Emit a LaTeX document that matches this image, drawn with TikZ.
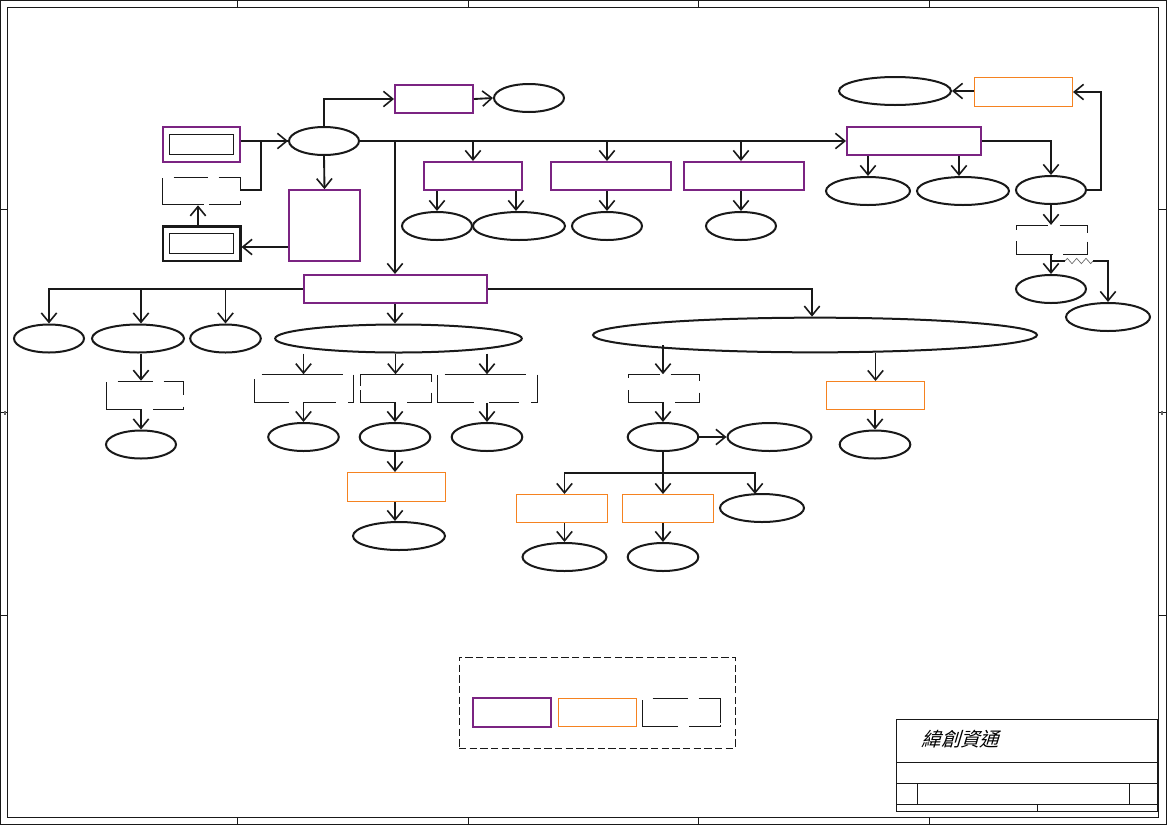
\documentclass[tikz,border=0pt]{standalone}
\usepackage{fontspec}
\newfontfamily\cjkslant[FakeSlant=0.3]{Noto Sans CJK TC}
\usetikzlibrary{arrows.meta,positioning,shapes.geometric,decorations.pathmorphing}
\definecolor{plum}{HTML}{7B2482}
\definecolor{amber}{HTML}{F58220}
\tikzset{
    link/.style={draw=black!90,line width=1.4pt,-{Straight Barb[length=7pt,width=11.5pt,line width=1.2pt]}},
    wire/.style={draw=black!90,line width=1.5pt},
    mainbox/.style={draw=plum,line width=1.5pt,rectangle,inner sep=0pt},
    subbox/.style={draw=amber,line width=0.75pt,rectangle,inner sep=0pt},
    openbox/.style={rectangle,inner sep=0pt},
    innerbox/.style={draw=black!90,line width=0.75pt,rectangle,inner sep=0pt,minimum width=48.5pt,minimum height=15.5pt},
    gapline/.style={draw=black!90,line width=0.75pt},
    oval/.style={draw=black!90,line width=1.5pt,ellipse,inner sep=0pt},
    frameline/.style={draw=black!90,line width=0.75pt}
}
\begin{document}
\begin{tikzpicture}[x=0.75pt,y=-0.75pt]
\useasboundingbox (0,0) rectangle (1167,825);

% sheet border
\draw[frameline] (0.5,0.5) rectangle (1166.5,824.5);
\draw[frameline] (7.5,7.5) rectangle (1158.5,817.5);
\foreach \x in {237.5,468.5,698.5,929.5}{
  \draw[frameline] (\x,0.5) -- (\x,7.5);
  \draw[frameline] (\x,817.5) -- (\x,824.5);
}
\foreach \y in {209.5,615.5}{
  \draw[frameline] (0.5,\y) -- (7.5,\y);
  \draw[frameline] (1158.5,\y) -- (1166.5,\y);
}
\draw[frameline] (0.5,412.5) -- (7.5,412.5);
\draw[frameline] (1158.5,412.5) -- (1166.5,412.5);
\draw[black!60,line width=1.5pt] (4.5,410.5) -- (4.5,414.5);
\draw[black!60,line width=1.5pt] (1162,410.5) -- (1162,414.5);

% title block
\draw[frameline] (896.5,719.5) rectangle (1157.5,811.5);
\draw[frameline] (896.5,762.5) -- (1157.5,762.5);
\draw[frameline] (896.5,783.5) -- (1157.5,783.5);
\draw[frameline] (896.5,804.5) -- (1157.5,804.5);
\draw[frameline] (917.5,783.5) -- (917.5,804.5);
\draw[frameline] (1129.5,783.5) -- (1129.5,804.5);
\draw[frameline] (1037.5,804.5) -- (1037.5,811.5);
\node[font=\cjkslant\fontsize{14.5pt}{14.5pt}\selectfont,inner sep=0pt] (brand) at (960.5,739) {緯創資通};

% top row
\node[oval,minimum width=52.5pt,minimum height=21pt] (hub) at (324,141) {};
\node[mainbox,minimum width=58.5pt,minimum height=21pt] (memory) at (434,99) {};
\node[oval,minimum width=52.5pt,minimum height=21pt] (memoryend) at (529,98) {};
\node[mainbox,minimum width=58pt,minimum height=26pt] (power) at (201.5,144.5) {};
\node[innerbox] (powerin) at (201.5,144.5) {};
\node[openbox,minimum width=58.5pt,minimum height=21pt] (charger) at (201,191) {};
\node[draw=black!90,line width=2pt,rectangle,inner sep=0pt,minimum width=58pt,minimum height=26pt] (adapter) at (201.5,243.5) {};
\node[innerbox] (adapterin) at (201.5,243.5) {};
\node[mainbox,minimum width=53pt,minimum height=53pt] (board) at (324.5,225.5) {};

% branches off the main bus
\node[mainbox,minimum width=73.5pt,minimum height=21pt] (busa) at (473,176) {};
\node[mainbox,minimum width=90pt,minimum height=21pt] (busb) at (611,176) {};
\node[mainbox,minimum width=90pt,minimum height=21pt] (busc) at (744,176) {};
\node[oval,minimum width=52.5pt,minimum height=21pt] (busaa) at (437,226) {};
\node[oval,minimum width=69pt,minimum height=21pt] (busab) at (519,226) {};
\node[oval,minimum width=52.5pt,minimum height=21pt] (busbend) at (607,226) {};
\node[oval,minimum width=52.5pt,minimum height=21pt] (buscend) at (741,226) {};

% right group
\node[mainbox,minimum width=100.5pt,minimum height=21pt] (right) at (914,141) {};
\node[subbox,minimum width=73.5pt,minimum height=21.75pt] (rightsub) at (1023.5,92) {};
\node[oval,minimum width=84pt,minimum height=21pt] (rightend) at (895,91) {};
\node[oval,minimum width=63pt,minimum height=21pt] (righta) at (868,191) {};
\node[oval,minimum width=69pt,minimum height=21pt] (rightb) at (963,191) {};
\node[oval,minimum width=52.5pt,minimum height=21pt] (rightc) at (1051,190) {};
\node[openbox,minimum width=53pt,minimum height=21.5pt] (rightbox) at (1051.5,239.5) {};
\node[oval,minimum width=52.5pt,minimum height=21pt] (rightd) at (1051,289) {};
\node[oval,minimum width=63pt,minimum height=21pt] (righte) at (1108,317) {};
\coordinate (bendstart) at (1051,261);
\coordinate (bendin) at (1065,261);
\coordinate (bendout) at (1093,261);

% lower bus
\node[mainbox,minimum width=137pt,minimum height=21pt] (lower) at (395.5,289) {};
\node[oval,minimum width=52.5pt,minimum height=21pt] (lowa) at (49,338.5) {};
\node[oval,minimum width=69pt,minimum height=21pt] (lowb) at (138,338.5) {};
\node[oval,minimum width=53pt,minimum height=21pt] (lowc) at (225.5,338.5) {};
\node[oval,minimum width=185pt,minimum height=21pt] (lowd) at (398.5,338.5) {};
\node[oval,minimum width=333pt,minimum height=26pt] (lowe) at (815,335) {};

% under lowb
\node[openbox,minimum width=58pt,minimum height=21pt] (lowbbox) at (145,395) {};
\node[oval,minimum width=52.5pt,minimum height=21pt] (lowbend) at (141,444.5) {};

% under lowd
\node[openbox,minimum width=74.25pt,minimum height=21pt] (lowda) at (303.5,388.5) {};
\node[openbox,minimum width=53pt,minimum height=21pt] (lowdb) at (395.5,388.5) {};
\node[openbox,minimum width=75pt,minimum height=21pt] (lowdc) at (487,388.5) {};
\node[oval,minimum width=53pt,minimum height=21pt] (lowdaend) at (303.5,437) {};
\node[oval,minimum width=53pt,minimum height=21pt] (lowdbend) at (395,437) {};
\node[oval,minimum width=53pt,minimum height=21pt] (lowdcend) at (487,437) {};
\node[subbox,minimum width=73.5pt,minimum height=21.75pt] (lowdbsub) at (396.5,487) {};
\node[oval,minimum width=69pt,minimum height=21pt] (lowdbsubend) at (399,536) {};

% under lowe
\coordinate (loweatop) at (663,345);
\node[openbox,minimum width=53pt,minimum height=21pt] (lowea) at (663.5,388.5) {};
\node[oval,minimum width=53pt,minimum height=21pt] (loweaend) at (663,437) {};
\node[oval,minimum width=63pt,minimum height=21pt] (loweaside) at (769.5,437) {};
\node[subbox,minimum width=73.5pt,minimum height=21pt] (loweb) at (875.5,395.5) {};
\node[oval,minimum width=53pt,minimum height=21pt] (lowebend) at (875,444.5) {};
\node[subbox,minimum width=68.25pt,minimum height=21pt] (branchl) at (562,508.5) {};
\node[subbox,minimum width=68.25pt,minimum height=21pt] (branchm) at (668,508.5) {};
\node[oval,minimum width=63pt,minimum height=21pt] (branchr) at (762,508) {};
\node[oval,minimum width=63pt,minimum height=21pt] (branchlend) at (564.5,557) {};
\node[oval,minimum width=53pt,minimum height=21pt] (branchmend) at (663,557) {};
\coordinate (tree) at (663,473);
\coordinate (treeright) at (755,494);

% legend
\node[draw=black!90,dash pattern=on 5.5pt off 2.5pt,line width=0.75pt,rectangle,inner sep=0pt,minimum width=207pt,minimum height=68.25pt] (legend) at (597,702.5) {};
\node[mainbox,minimum width=58.5pt,minimum height=21.5pt] (legenda) at (512,712.5) {};
\node[subbox,minimum width=58.5pt,minimum height=21pt] (legendb) at (597.5,712.5) {};
\node[openbox,minimum width=58.5pt,minimum height=21.5pt] (legendc) at (682,712.5) {};

% boxes with broken outlines
\begin{scope}[shift={(0.5,0.5)}]
\draw[gapline] (173,177) -- (207,177) (218,177) -- (240,177) -- (240,190) (240,200) -- (240,204) -- (208,204) (203,204) -- (162,204) -- (162,177);
\draw[gapline] (1016,229) -- (1016,225) -- (1047,225) (1059,225) -- (1087,225) -- (1087,232) (1087,241) -- (1087,254) -- (1062,254) (1052,254) -- (1016,254) -- (1016,240);
\draw[gapline] (117,381) -- (152,381) (163,381) -- (183,381) -- (183,394) (183,406) -- (183,409) -- (152,409) (140,409) -- (106,409) -- (106,381);
\draw[gapline] (261,374) -- (342,374) (353,374) -- (353,402) -- (347,402) (335,402) -- (302,402) (288,402) -- (254,402) -- (254,378);
\draw[gapline] (360,385) -- (360,374) -- (431,374) -- (431,381) (431,392) -- (431,402) -- (406,402) (395,402) -- (360,402) -- (360,389);
\draw[gapline] (444,374) -- (525,374) (537,374) -- (537,402) -- (530,402) (518,402) -- (488,402) (473,402) -- (437,402) -- (437,374);
\draw[gapline] (628,377) -- (628,374) -- (659,374) (670,374) -- (699,374) -- (699,380) (699,392) -- (699,402) -- (674,402) (663,402) -- (628,402) -- (628,389);
\draw[gapline] (652,698) -- (687,698) (698,698) -- (720,698) -- (720,722) (720,724) -- (720,726) -- (688,726) (677,726) -- (642,726) -- (642,699);
\end{scope}

% top connections
\draw[link] (power.east |- hub.west) -- (hub.west);
\draw[wire] (charger.east |- 0,190) -- (261,190) |- (hub.west);
\draw[link] (adapter.north -| 198,0) -- (charger.south -| 198,0);
\draw[link] (hub.north) |- (memory.west);
\draw[link] (memory.east) -- (memoryend.west);
\draw[link] (hub.south) -- (board.north);
\draw[link] (board.west |- 0,247) -- (adapter.east |- 0,247);
\draw[link] (hub.east) -- (right.west);
\draw[link] (hub.east -| 395,0) -- (lower.north -| 395,0);
\draw[link] (hub.east -| busa.north) -- (busa.north);
\draw[link] (hub.east -| busbend.north) -- (busb.north -| busbend.north);
\draw[link] (hub.east -| buscend.north) -- (busc.north -| buscend.north);

\draw[link] (busa.south -| busaa.north) -- (busaa.north);
\draw[link] (busa.south -| 516,0) -- (busab.north -| 516,0);
\draw[link] (busb.south -| busbend.north) -- (busbend.north);
\draw[link] (busc.south -| buscend.north) -- (buscend.north);

% right connections
\draw[link] (rightsub.west |- rightend.east) -- (rightend.east);
\draw[link] (right.south -| righta.north) -- (righta.north);
\draw[link] (right.south -| 959,0) -- (rightb.north -| 959,0);
\draw[link] (right.east) -| (rightc.north);
\draw[link] (rightc.east) -- (1101,190) |- (rightsub.east);
\draw[link] (rightc.south) -- (rightbox.north -| rightc.south);
\draw[link] (rightbox.south -| rightd.north) -- (rightd.north);
\draw[wire] (bendstart) -- (bendin);
\draw[draw=black!60,line width=0.5pt,decorate,decoration={zigzag,amplitude=2pt,segment length=7pt}] (bendin) -- (bendout);
\draw[link] (bendout) -| (righte.north);

% lower bus connections
\draw[link] (lower.west) -| (lowa.north);
\draw[link] (lower.west -| 141,0) -- (lowb.north -| 141,0);
\draw[link] (lower.west -| lowc.north) -- (lowc.north);
\draw[link] (lower.south -| 395,0) -- (lowd.north -| 395,0);
\draw[link] (lower.east) -| (lowe.north -| 812,0);

\draw[link] (lowb.south -| 141,0) -- (lowbbox.north -| 141,0);
\draw[link] (lowbbox.south -| 141,0) -- (lowbend.north);
\foreach \b/\e in {lowda/lowdaend,lowdb/lowdbend,lowdc/lowdcend}{
  \draw[link] (lowd.south -| \b.north) -- (\b.north);
  \draw[link] (\b.south -| \e.north) -- (\e.north);
}
\draw[link] (lowdbend.south) -- (lowdbsub.north -| lowdbend.south);
\draw[link] (lowdbsub.south -| 395,0) -- (lowdbsubend.north -| 395,0);

% lower right connections
\draw[link] (loweatop) -- (lowea.north -| loweatop);
\draw[link] (lowea.south -| loweaend.north) -- (loweaend.north);
\draw[link] (lowe.south -| loweb.north) -- (loweb.north);
\draw[link] (loweb.south -| lowebend.north) -- (lowebend.north);
\draw[link] (loweaend.east) -- (loweaside.west);
\draw[link] (loweaend.south) -- (branchm.north -| loweaend.south);
\draw[link] (tree) -| (branchl.north -| branchlend.north);
\draw[link] (tree) -| (treeright);
\draw[link] (branchl.south -| branchlend.north) -- (branchlend.north);
\draw[link] (branchm.south -| branchmend.north) -- (branchmend.north);
\end{tikzpicture}
\end{document}
